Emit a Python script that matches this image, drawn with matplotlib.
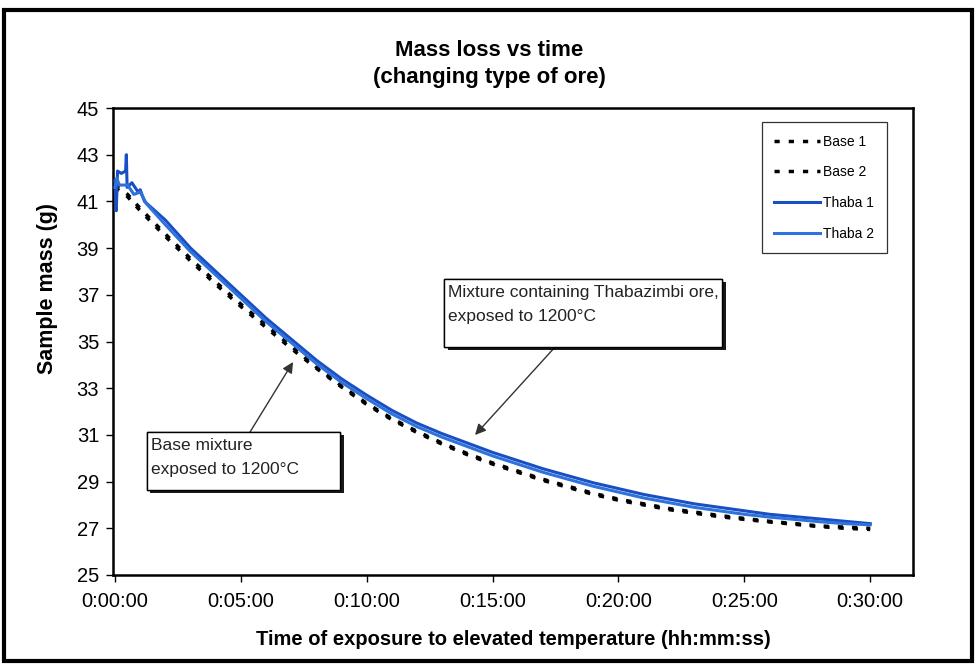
import matplotlib
matplotlib.use("Agg")
import matplotlib.pyplot as plt
from matplotlib.patches import Rectangle
from matplotlib import patheffects
from matplotlib.ticker import FixedLocator, FuncFormatter

plt.rcParams['font.family'] = ['Liberation Sans', 'DejaVu Sans']

# ---- data (time in minutes, mass in g) ----
t_thaba1 = [0.0, 0.05, 0.10, 0.25, 0.42, 0.45, 0.48, 0.67, 0.92, 1.0, 1.17,
            2, 3, 4, 5, 6, 7, 8, 9, 10, 11, 12, 13, 14, 15, 16, 17, 18, 19, 20,
            21, 22, 23, 24, 25, 26, 27, 28, 29, 30]
m_thaba1 = [41.9, 40.6, 42.3, 42.2, 42.3, 43.0, 41.6, 41.8, 41.4, 41.5, 41.0,
            40.2, 39.0, 38.0, 37.0, 36.0, 35.1, 34.2, 33.4, 32.7, 32.05, 31.5,
            31.05, 30.65, 30.25, 29.9, 29.55, 29.25, 28.95, 28.7,
            28.45, 28.25, 28.05, 27.9, 27.75, 27.6, 27.5, 27.4, 27.3, 27.2]

t_thaba2 = [0.0, 0.07, 0.17, 0.5, 0.75, 1.0, 1.25,
            2, 3, 4, 5, 6, 7, 8, 9, 10, 11, 12, 13, 14, 15, 16, 17, 18, 19, 20,
            21, 22, 23, 24, 25, 26, 27, 28, 29, 30]
m_thaba2 = [41.6, 42.0, 41.7, 41.7, 41.3, 41.4, 40.9,
            40.0, 38.85, 37.85, 36.85, 35.85, 34.95, 34.05, 33.25, 32.55, 31.9,
            31.35, 30.9, 30.5, 30.1, 29.75, 29.4, 29.1, 28.8, 28.55,
            28.3, 28.1, 27.9, 27.75, 27.6, 27.48, 27.38, 27.28, 27.2, 27.15]

t_base = [0.0, 0.5, 1, 2, 3, 4, 5, 6, 7, 8, 9, 10, 11, 12, 13, 14, 15, 16, 17,
          18, 19, 20, 21, 22, 23, 24, 25, 26, 27, 28, 29, 30]
m_base1 = [41.7, 41.3, 40.7, 39.6, 38.55, 37.55, 36.6, 35.7, 34.8, 33.9, 33.1,
           32.35, 31.7, 31.15, 30.65, 30.2, 29.8, 29.45, 29.1, 28.8, 28.5, 28.25,
           28.05, 27.85, 27.7, 27.55, 27.42, 27.3, 27.2, 27.1, 27.05, 27.0]
m_base2 = [41.6, 41.2, 40.6, 39.5, 38.45, 37.45, 36.5, 35.6, 34.7, 33.85, 33.05,
           32.3, 31.65, 31.1, 30.6, 30.15, 29.75, 29.4, 29.05, 28.75, 28.45, 28.2,
           28.0, 27.8, 27.65, 27.5, 27.38, 27.27, 27.17, 27.07, 27.0, 26.95]

x_ticks = [0, 5, 10, 15, 20, 25, 30]
y_ticks = [25, 27, 29, 31, 33, 35, 37, 39, 41, 43, 45]

fig = plt.figure(figsize=(9.75, 6.65), dpi=100)
fig.patch.set_facecolor('white')
ax = fig.add_axes([113/975, 1-575/665, 800/975, 467/665])
ax.set_facecolor('white')

dash = (0, (1.5, 2.6))
ax.plot(t_base, m_base1, color='black', lw=2.5, linestyle=dash, label='Base 1', zorder=3)
ax.plot(t_base, m_base2, color='black', lw=2.5, linestyle=dash, label='Base 2', zorder=3)
ax.plot(t_thaba1, m_thaba1, color='#1a4fc4', lw=2.2, label='Thaba 1', zorder=4)
ax.plot(t_thaba2, m_thaba2, color='#2e72dc', lw=2.2, label='Thaba 2', zorder=4)

ax.set_xlim(-0.08, 31.7)
ax.set_ylim(25, 45)
ax.xaxis.set_major_locator(FixedLocator(x_ticks))
ax.yaxis.set_major_locator(FixedLocator(y_ticks))


def fmt_time(v, pos):
    total = int(round(v * 60))
    h, rem = divmod(total, 3600)
    m, s = divmod(rem, 60)
    return f"{h}:{m:02d}:{s:02d}"


ax.xaxis.set_major_formatter(FuncFormatter(fmt_time))
ax.tick_params(axis='both', direction='out', length=5, width=1, labelsize=14.5,
               colors='black')
ax.tick_params(axis='x', pad=7)
ax.tick_params(axis='y', pad=5)
for sp in ax.spines.values():
    sp.set_linewidth(1.8)
    sp.set_color('black')

fig.text(0.502, 1-50/665, "Mass loss vs time", ha='center', va='center',
         fontsize=16, fontweight='bold')
fig.text(0.502, 1-77/665, "(changing type of ore)", ha='center', va='center',
         fontsize=16, fontweight='bold')
ax.set_ylabel("Sample mass (g)", fontsize=15.5, fontweight='bold')
ax.yaxis.set_label_coords(-0.069, (575 - 289) / 467)
ax.set_xlabel("Time of exposure to elevated temperature (hh:mm:ss)", fontsize=14.5,
              fontweight='bold', labelpad=14)

leg = ax.legend(loc='upper left', bbox_to_anchor=((762-113)/800, 1-(122-108)/467),
                frameon=True, fancybox=False, edgecolor='black', fontsize=10,
                handlelength=3.3, handletextpad=0.2, labelspacing=1.2,
                borderpad=0.9, borderaxespad=0)
leg.get_frame().set_linewidth(0.9)


def px2d(px, py):
    return ((px - 115) / 25.17, 45 - (py - 108) / 23.35)


shadow = [patheffects.withSimplePatchShadow(offset=(2.5, -2.5), shadow_rgbFace='black',
                                            alpha=0.9), patheffects.Normal()]


def callout(x0, y0, x1, y1, lines, text_x, text_y):
    (dx0, dy0) = px2d(x0, y1)
    (dx1, dy1) = px2d(x1, y0)
    r = Rectangle((dx0, dy0), dx1 - dx0, dy1 - dy0, fc='white', ec='black', lw=1.0,
                  zorder=6)
    r.set_path_effects(shadow)
    ax.add_patch(r)
    tx, ty = px2d(text_x, text_y)
    ax.text(tx, ty, lines, ha='left', va='top', fontsize=12.5, color='#222222',
            linespacing=1.75, zorder=7)


callout(444, 279, 722, 347, "Mixture containing Thabazimbi ore,\nexposed to 1200°C", 448, 285)
callout(147, 432, 340, 490, "Base mixture\nexposed to 1200°C", 151, 438)

arrow = dict(arrowstyle='-|>', color='#333333', lw=1.0, mutation_scale=16,
             shrinkA=0, shrinkB=0)
ax.annotate('', xy=px2d(475, 435), xytext=px2d(555, 347), arrowprops=arrow, zorder=5)
ax.annotate('', xy=px2d(293, 362), xytext=px2d(250, 432), arrowprops=arrow, zorder=5)

# outer frame of the figure
fig.patches.append(Rectangle((4/975, 1-661/665), 968/975, 651/665,
                             transform=fig.transFigure, fill=False, ec='black', lw=3))

fig.savefig("out.png", dpi=100)
